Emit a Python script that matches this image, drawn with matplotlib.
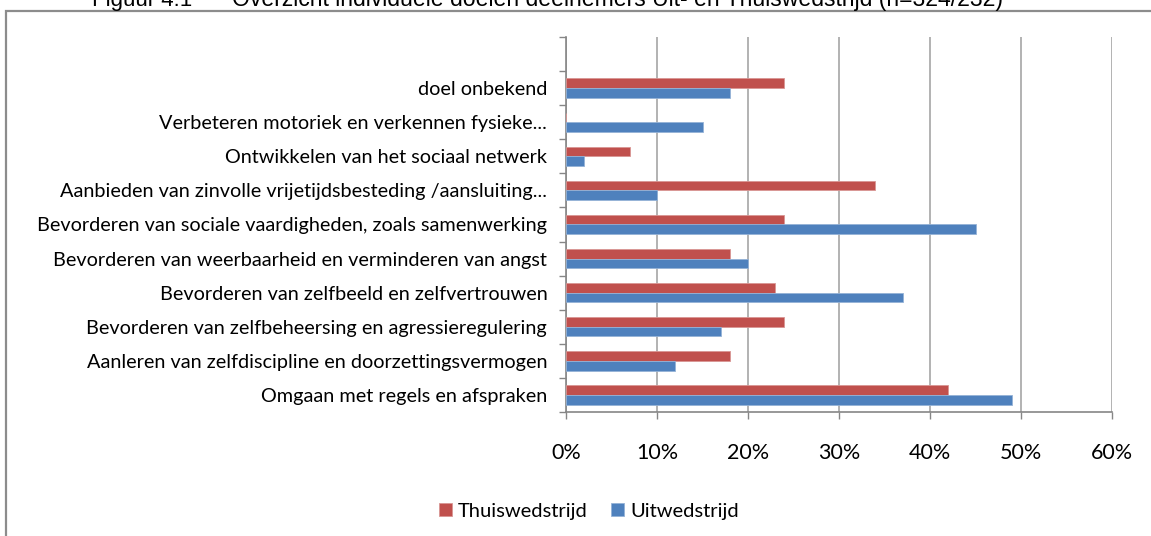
import matplotlib
matplotlib.use("Agg")
import matplotlib.pyplot as plt
import numpy as np
from matplotlib.patches import Rectangle

categories = [
    "Omgaan met regels en afspraken",
    "Aanleren van zelfdiscipline en doorzettingsvermogen",
    "Bevorderen van zelfbeheersing en agressieregulering",
    "Bevorderen van zelfbeeld en zelfvertrouwen",
    "Bevorderen van weerbaarheid en verminderen van angst",
    "Bevorderen van sociale vaardigheden, zoals samenwerking",
    "Aanbieden van zinvolle vrijetijdsbesteding /aansluiting...",
    "Ontwikkelen van het sociaal netwerk",
    "Verbeteren motoriek en verkennen fysieke...",
    "doel onbekend",
    "",
]
thuis = [0.42, 0.18, 0.24, 0.23, 0.18, 0.24, 0.34, 0.07, 0.0, 0.24, np.nan]
uit = [0.49, 0.12, 0.17, 0.37, 0.20, 0.45, 0.10, 0.02, 0.15, 0.18, np.nan]
xticks = [0, 0.1, 0.2, 0.3, 0.4, 0.5, 0.6]
xticklabels = ["0%", "10%", "20%", "30%", "40%", "50%", "60%"]
series_names = ["Thuiswedstrijd", "Uitwedstrijd"]

RED = "#C0504D"
BLUE = "#4F81BD"
GRID = "#A6A6A6"
FONT = "Lato"

W, H = 1151, 536
fig = plt.figure(figsize=(W / 100, H / 100), dpi=100)
fig.patch.set_facecolor("white")

# outer frame
fig.patches.append(Rectangle((6 / W, -0.1), 1.2, 1 - 10.5 / H + 0.1, transform=fig.transFigure,
                             fill=False, edgecolor="#8C8C8C", linewidth=1.6))

# title (cut off at top)
fig.text(92 / W, 1 - 6 / H, "Figuur 4.1", family="Liberation Sans", fontsize=16,
         va="baseline", ha="left", color="black")
fig.text(232 / W, 1 - 6 / H,
         "Overzicht individuele doelen deelnemers Uit- en Thuiswedstrijd (n=324/232)",
         family="Liberation Sans", fontsize=16.6, va="baseline", ha="left", color="black")

left, right = 566 / W, 1112 / W
top, bottom = 1 - 37 / H, 1 - 412 / H
ax = fig.add_axes([left, bottom, right - left, top - bottom])

y = np.arange(len(categories))
h = 0.285
ax.barh(y + h / 2, thuis, height=h, color=RED, edgecolor="#D99694", linewidth=0.6,
        label=series_names[0], zorder=3)
ax.barh(y - h / 2, uit, height=h, color=BLUE, edgecolor="#95B3D7", linewidth=0.6,
        label=series_names[1], zorder=3)

ax.set_xlim(0, 0.6)
ax.set_ylim(-0.5, len(categories) - 0.5)
ax.set_xticks(xticks)
ax.set_xticklabels(xticklabels, family=FONT, fontsize=15.5)
ax.set_yticks(np.arange(len(categories) + 1) - 0.5)
ax.set_yticklabels([])
ax.set_yticks(y, minor=True)
ax.set_yticklabels(categories, minor=True, family=FONT, fontsize=14.3)
ax.tick_params(axis="y", which="minor", length=0, pad=13.5)
ax.tick_params(axis="y", which="major", length=5, color="#868686", width=1)
ax.tick_params(axis="x", length=5, color="#868686", width=1, pad=17)

ax.grid(axis="x", color=GRID, linewidth=1.2, zorder=0)
for s in ["top", "right"]:
    ax.spines[s].set_visible(False)
for s in ["left", "bottom"]:
    ax.spines[s].set_color("#868686")
    ax.spines[s].set_linewidth(1.2)

leg = fig.legend(loc="center", bbox_to_anchor=(589 / W, 1 - 511 / H), ncol=2, frameon=False,
                 prop={"family": FONT, "size": 14.5}, handlelength=0.65, handleheight=0.65,
                 handletextpad=0.3, columnspacing=1.15)

fig.savefig("out.png", dpi=100, facecolor="white")
